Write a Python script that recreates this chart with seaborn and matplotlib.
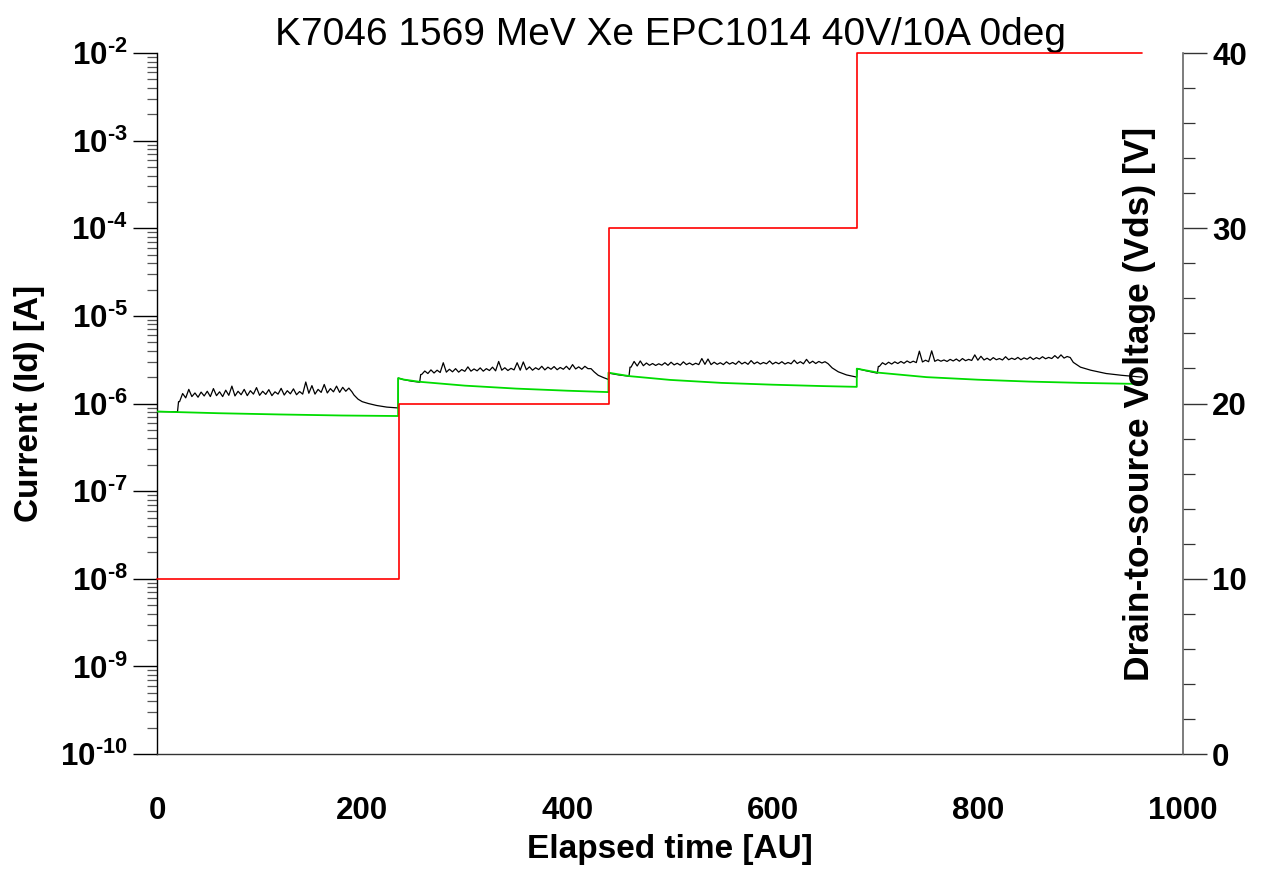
import numpy as np
import pandas as pd
import matplotlib
matplotlib.use("Agg")
import matplotlib.pyplot as plt
import seaborn as sns
from matplotlib.ticker import LogLocator, MultipleLocator, FuncFormatter, NullFormatter

# ---------------- data ----------------
title = "K7046 1569 MeV Xe EPC1014 40V/10A 0deg"
x_label = "Elapsed time [AU]"
y_left_label = "Current (Id) [A]"
y_right_label = "Drain-to-source Voltage (Vds) [V]"

# Drain-to-source voltage steps (right axis)
vds_time = [0, 235.5, 235.5, 440.5, 440.5, 682.5, 682.5, 960]
vds_volt = [10, 10, 20, 20, 30, 30, 40, 40]

# Smooth (green) current trace
green_time = [0, 60, 120, 180, 235,
              235, 240, 256, 300, 350, 400, 440,
              440, 450, 461, 500, 550, 600, 650, 682,
              682, 690, 703, 750, 800, 850, 900, 960]
green_curr = [8.1e-7, 7.75e-7, 7.5e-7, 7.3e-7, 7.2e-7,
              1.95e-6, 1.88e-6, 1.77e-6, 1.6e-6, 1.48e-6, 1.40e-6, 1.35e-6,
              2.25e-6, 2.15e-6, 2.05e-6, 1.86e-6, 1.72e-6, 1.64e-6, 1.58e-6, 1.55e-6,
              2.5e-6, 2.4e-6, 2.25e-6, 2.0e-6, 1.87e-6, 1.78e-6, 1.72e-6, 1.67e-6]

# Noisy (black) drain current trace, per Vds plateau (noise values in uA)
noise_step = 3
# plateau 1
b1_lead_t = [0, 20, 21]
b1_lead_i = [8.1e-7, 8.05e-7, 1.05e-6]
b1_noise_start = 22
b1_noise = [1.05, 1.30, 1.16, 1.45, 1.20, 1.32, 1.18, 1.35, 1.22, 1.38,
            1.20, 1.48, 1.23, 1.36, 1.20, 1.42, 1.24, 1.58, 1.22, 1.38,
            1.26, 1.45, 1.23, 1.40, 1.28, 1.52, 1.24, 1.38, 1.27, 1.44,
            1.23, 1.36, 1.28, 1.49, 1.25, 1.40, 1.29, 1.47, 1.26, 1.37,
            1.28, 1.76, 1.31, 1.60, 1.28, 1.45, 1.34, 1.65, 1.32, 1.48,
            1.36, 1.58, 1.34, 1.53, 1.38, 1.50, 1.36]
b1_tail_t = [192, 196, 200, 206, 214, 224, 235]
b1_tail_i = [1.25e-6, 1.12e-6, 1.05e-6, 1.0e-6, 9.5e-7, 9.1e-7, 8.9e-7]
# plateau 2
b2_lead_t = [235.2, 240, 248, 256, 257]
b2_lead_i = [1.95e-6, 1.88e-6, 1.80e-6, 1.75e-6, 2.14e-6]
b2_noise_start = 258
b2_noise = [2.15, 2.35, 2.20, 2.42, 2.23, 2.40, 2.26, 2.92, 2.28, 2.46,
            2.30, 2.50, 2.28, 2.44, 2.33, 2.62, 2.34, 2.48, 2.36, 2.55,
            2.34, 2.50, 2.38, 2.60, 2.36, 3.02, 2.40, 2.56, 2.38, 2.52,
            2.42, 2.92, 2.40, 2.98, 2.43, 2.62, 2.40, 2.56, 2.44, 2.66,
            2.42, 2.60, 2.46, 2.64, 2.43, 2.58, 2.46, 2.66, 2.44, 2.78,
            2.48, 2.62, 2.46, 2.66, 2.50, 2.50]
b2_tail_t = [426, 430, 435, 440]
b2_tail_i = [2.3e-6, 2.1e-6, 1.98e-6, 1.88e-6]
# plateau 3
b3_lead_t = [440.5, 450, 460, 461]
b3_lead_i = [2.22e-6, 2.12e-6, 2.05e-6, 2.6e-6]
b3_noise_start = 462
b3_noise = [2.60, 3.02, 2.68, 3.06, 2.70, 2.90, 2.73, 2.86, 2.72, 2.84,
            2.74, 2.92, 2.73, 2.96, 2.76, 2.88, 2.74, 2.99, 2.78, 2.90,
            2.76, 2.88, 2.78, 3.26, 2.80, 3.22, 2.78, 2.96, 2.80, 2.92,
            2.78, 2.99, 2.82, 2.94, 2.80, 3.04, 2.83, 2.96, 2.80, 3.09,
            2.84, 2.98, 2.82, 2.94, 2.84, 3.06, 2.82, 2.96, 2.84, 3.00,
            2.82, 2.94, 2.84, 3.12, 2.86, 3.00, 2.84, 3.19, 2.88, 3.04,
            2.86, 3.02, 2.90, 3.00, 2.85]
b3_tail_t = [658, 664, 672, 682]
b3_tail_i = [2.55e-6, 2.3e-6, 2.12e-6, 2.0e-6]
# plateau 4
b4_lead_t = [682.5, 690, 702, 703]
b4_lead_i = [2.5e-6, 2.38e-6, 2.22e-6, 2.65e-6]
b4_noise_start = 704
b4_noise = [2.65, 2.92, 2.78, 2.96, 2.82, 2.99, 2.86, 3.02, 2.88, 3.06,
            2.92, 3.04, 2.93, 3.96, 2.98, 3.12, 3.00, 3.99, 3.03, 3.16,
            3.04, 3.14, 3.02, 3.19, 3.06, 3.22, 3.04, 3.26, 3.08, 3.19,
            3.10, 3.59, 3.12, 3.46, 3.14, 3.29, 3.12, 3.34, 3.16, 3.26,
            3.14, 3.42, 3.16, 3.29, 3.18, 3.36, 3.16, 3.32, 3.20, 3.39,
            3.18, 3.34, 3.22, 3.42, 3.24, 3.36, 3.26, 3.52, 3.28, 3.59,
            3.30, 3.44, 3.35]
b4_tail_t = [893, 900, 910, 925, 940, 960]
b4_tail_i = [2.95e-6, 2.6e-6, 2.4e-6, 2.2e-6, 2.1e-6, 2.0e-6]

x_ticks = [0, 200, 400, 600, 800, 1000]
right_ticks = [0, 10, 20, 30, 40]

# ---------------- assemble black trace ----------------
black_t, black_i = [], []
for lt, li, ns, nv, tt, ti in [
        (b1_lead_t, b1_lead_i, b1_noise_start, b1_noise, b1_tail_t, b1_tail_i),
        (b2_lead_t, b2_lead_i, b2_noise_start, b2_noise, b2_tail_t, b2_tail_i),
        (b3_lead_t, b3_lead_i, b3_noise_start, b3_noise, b3_tail_t, b3_tail_i),
        (b4_lead_t, b4_lead_i, b4_noise_start, b4_noise, b4_tail_t, b4_tail_i)]:
    black_t += lt
    black_i += li
    black_t += [ns + noise_step * k for k in range(len(nv))]
    black_i += [v * 1e-6 for v in nv]
    black_t += tt
    black_i += ti

black_df = pd.DataFrame({"t": black_t, "I": black_i})
green_df = pd.DataFrame({"t": green_time, "I": green_curr})
vds_df = pd.DataFrame({"t": vds_time, "V": vds_volt})

# ---------------- styling ----------------
sns.set_style("white")
plt.rcParams["font.family"] = ["Liberation Sans", "DejaVu Sans"]
plt.rcParams["font.weight"] = "bold"
for key in ["text.color", "axes.labelcolor", "xtick.color", "ytick.color"]:
    plt.rcParams[key] = "black"
plt.rcParams["mathtext.fontset"] = "custom"
plt.rcParams["mathtext.rm"] = "Liberation Sans:bold"
plt.rcParams["mathtext.bf"] = "Liberation Sans:bold"
plt.rcParams["mathtext.it"] = "Liberation Sans:bold"
plt.rcParams["mathtext.default"] = "rm"

fig = plt.figure(figsize=(12.66, 8.69), dpi=100)
ax = fig.add_axes([0.124, 0.1323, 0.9345 - 0.124, 0.939 - 0.1323])
ax2 = ax.twinx()

ax.set_yscale("log")
sns.lineplot(data=black_df, x="t", y="I", ax=ax, estimator=None, sort=False,
             color="black", linewidth=0.9, zorder=2)
sns.lineplot(data=green_df, x="t", y="I", ax=ax, estimator=None, sort=False,
             color="#00dd00", linewidth=1.3, zorder=3)
sns.lineplot(data=vds_df, x="t", y="V", ax=ax2, estimator=None, sort=False,
             color="#ff0000", linewidth=1.2, clip_on=False)

ax.set_xlim(0, 1000)
ax.set_ylim(1e-10, 1e-2)
ax2.set_ylim(0, 40)

# ticks
ax.xaxis.set_major_locator(plt.FixedLocator(x_ticks))
ax.xaxis.set_minor_locator(MultipleLocator(100))
ax.yaxis.set_major_locator(LogLocator(base=10, numticks=20))
ax.yaxis.set_minor_locator(LogLocator(base=10, subs=np.arange(2, 10), numticks=20))
ax.yaxis.set_minor_formatter(NullFormatter())
ax.yaxis.set_major_formatter(
    FuncFormatter(lambda v, p: "$10^{\u2010%d}$" % abs(int(round(np.log10(v))))))
ax2.yaxis.set_major_locator(plt.FixedLocator(right_ticks))
ax2.yaxis.set_minor_locator(MultipleLocator(2))

ax.tick_params(axis="both", which="major", direction="out", length=17, width=1.0,
               labelsize=22.5, color="black")
ax.tick_params(axis="x", which="major", pad=13)
ax.tick_params(axis="y", which="major", pad=4)
ax.tick_params(axis="x", which="minor", direction="out", length=8, width=0.9, color="#444444")
ax.tick_params(axis="y", which="minor", direction="out", length=7.2, width=0.9, color="#555555")
ax2.tick_params(axis="y", which="major", direction="out", length=17, width=1.0,
                labelsize=22.5, pad=4, color="#333333")
ax2.tick_params(axis="y", which="minor", direction="out", length=8.6, width=0.9, color="#333333")

ax.spines["top"].set_visible(False)
ax2.spines["top"].set_visible(False)
ax2.spines["left"].set_visible(False)
ax.spines["right"].set_visible(False)
ax.spines["left"].set_color("black")
ax.spines["bottom"].set_color("#333333")
ax2.spines["right"].set_color("#666666")
ax2.spines["bottom"].set_visible(False)
for sp in ax.spines.values():
    sp.set_linewidth(1.0)
ax2.spines["right"].set_linewidth(1.2)

# labels
ax.set_title(title, fontsize=28, fontweight="normal", pad=6)
ax.set_xlabel(x_label, fontsize=24, fontweight="bold", labelpad=6)
ax.set_ylabel(y_left_label, fontsize=24, fontweight="bold", va="center", ha="center")
ax.yaxis.set_label_coords(-0.1238, 0.5)
ax2.set_ylabel(y_right_label, fontsize=25.5, fontweight="bold", va="center", ha="center",
               rotation=90)
ax2.yaxis.set_label_coords(0.958, 0.5)

fig.savefig("out.png", dpi=100)
